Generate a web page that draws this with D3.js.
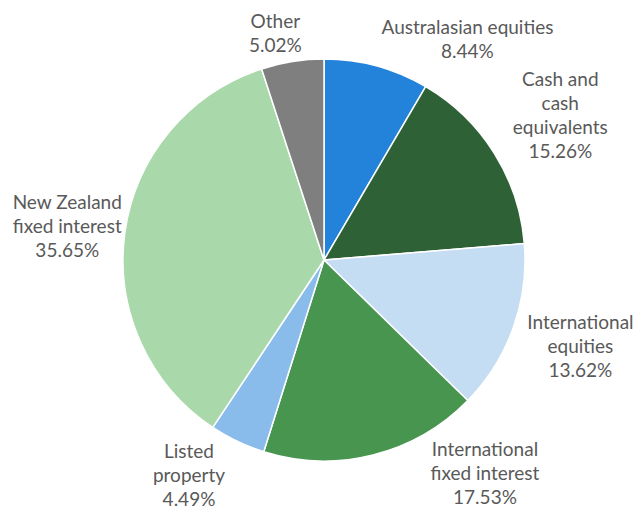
<!DOCTYPE html>
<html>
<head>
<meta charset="utf-8">
<script src="https://cdn.jsdelivr.net/npm/d3@7"></script>
<style>
  html, body { margin: 0; padding: 0; background: #fff; }
  svg { display: block; }
</style>
</head>
<body>
<div id="chart"></div>
<script>
// slice data, clockwise from 12 o'clock
const categories = ["Australasian equities", "Cash and cash equivalents", "International equities",
  "International fixed interest", "Listed property", "New Zealand fixed interest", "Other"];
const values = [8.44, 15.26, 13.62, 17.53, 4.49, 35.65, 5.02];
// how each label breaks onto lines
const labelLines = [
  ["Australasian equities"],
  ["Cash and", "cash", "equivalents"],
  ["International", "equities"],
  ["International", "fixed interest"],
  ["Listed", "property"],
  ["New Zealand", "fixed interest"],
  ["Other"]
];
const colors = ["#2382DA", "#2E6135", "#C5DDF3", "#47954F", "#89BCEB", "#A9D8AA", "#7F7F7F"];

const width = 637, height = 509;
const cx = 324, cy = 260, radius = 201;
// extra nudges (best-fit placement), relative to the point at radius + 45 on the slice mid angle
const labelShift = [[79, 17], [28, -14], [25, 3], [101, -25], [-29, -7], [-13, 0], [-10, 16]];

const svg = d3.select("#chart").append("svg")
    .attr("width", width)
    .attr("height", height);

const g = svg.append("g")
    .attr("transform", "translate(" + cx + "," + cy + ")");

const data = values.map((v, i) => ({ name: categories[i], value: v, i: i }));

const pie = d3.pie().value(d => d.value).sort(null);
const arcs = pie(data);

const arc = d3.arc().innerRadius(0).outerRadius(radius);

g.selectAll("path.slice")
    .data(arcs)
    .enter()
    .append("path")
    .attr("class", "slice")
    .attr("d", arc)
    .attr("fill", d => colors[d.data.i])
    .attr("stroke", "#fff")
    .attr("stroke-width", 1.5)
    .attr("stroke-linejoin", "round");

// labels
const labelArc = d3.arc().innerRadius(radius + 45).outerRadius(radius + 45);
const lineH = 24;

const labels = g.selectAll("text.lbl")
    .data(arcs)
    .enter()
    .append("text")
    .attr("class", "lbl")
    .attr("text-anchor", "middle")
    .style("font-family", "Lato, 'Liberation Sans', sans-serif")
    .style("font-size", "19px")
    .attr("fill", "#595959")
    .attr("transform", d => {
        const c = labelArc.centroid(d);
        const s = labelShift[d.data.i];
        return "translate(" + (c[0] + s[0]) + "," + (c[1] + s[1]) + ")";
    });

labels.each(function(d) {
    const lines = labelLines[d.data.i].concat([d.data.value.toFixed(2) + "%"]);
    const n = lines.length;
    const t = d3.select(this);
    lines.forEach((ln, k) => {
        t.append("tspan")
            .attr("x", 0)
            .attr("y", (k - (n - 1) / 2) * lineH)
            .attr("dy", "0.35em")
            .text(ln);
    });
});
</script>
</body>
</html>
